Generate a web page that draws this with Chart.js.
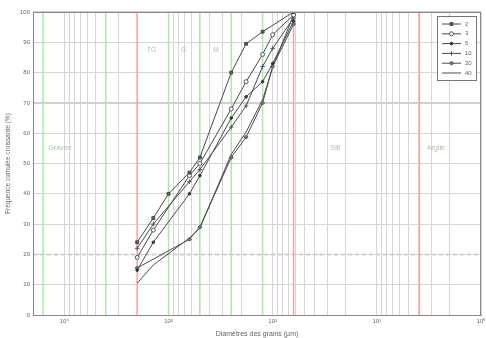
<!DOCTYPE html>
<html>
<head>
<meta charset="utf-8">
<script src="https://cdn.jsdelivr.net/npm/chart.js@4/dist/chart.umd.min.js"></script>
<style>
html, body { margin: 0; padding: 0; background: #fff; }
</style>
</head>
<body>
<canvas id="myChart" width="486" height="338"></canvas>
<script>
// Courbes granulométriques (diamètres en µm, passant cumulé en %)
const seriesNames = ['2', '3', '5', '10', '20', '40'];

const tailles2  = [2000, 1400, 1000, 630, 500, 250, 180, 125, 63];
const passant2  = [24, 32, 40, 47, 52, 80, 89.5, 93.5, 100];
const tailles3  = [2000, 1400, 630, 500, 250, 180, 125, 100, 63];
const passant3  = [19, 28, 46, 50, 68, 77, 86, 92.5, 99];
const tailles5  = [2000, 1400, 630, 500, 250, 180, 125, 100, 63];
const passant5  = [14.8, 24, 40, 46, 65, 72, 77, 83, 97];
const tailles10 = [2000, 1400, 630, 500, 250, 180, 125, 100, 63];
const passant10 = [22, 30, 44, 48, 62, 69, 82, 88, 98];
const tailles20 = [2000, 630, 500, 250, 180, 125, 100, 63];
const passant20 = [15.5, 25, 29, 52, 58.7, 70, 82, 96];
const tailles40 = [2000, 1400, 630, 500, 250, 180, 125, 100, 63];
const passant40 = [10.5, 16.5, 25.4, 28.7, 53, 60.4, 71, 81.8, 99];

const tailles  = [tailles2, tailles3, tailles5, tailles10, tailles20, tailles40];
const passants = [passant2, passant3, passant5, passant10, passant20, passant40];

// Axe des x
const majorTicks = [1, 10, 100, 1000, 10000];
const tickLabels = ['10\u2070', '10\u00b9', '10\u00b2', '10\u00b3', '10\u2074'];

// Limites des classes granulométriques (µm)
const limitesRouges = [2000, 63, 3.9];
const limitesVertes = [16000, 4000, 1000, 500, 250, 125];
const classes = ['Gravier', 'Silt', 'Argile'];
const classesX = [11000, 25, 2.7];
const sousClasses = ['TG', 'G', 'M'];
const sousClassesX = [1450, 720, 350];

const police = '"Liberation Sans", Arial, sans-serif';
const ctx = document.getElementById('myChart').getContext('2d');

// lignes de grille : toutes les valeurs 1..9 x 10^n
const gridValues = [];
majorTicks.forEach(m => {
    for (let k = 1; k <= 9; k++) {
        const v = m * k;
        if (v <= 20000) gridValues.push(v);
    }
});
gridValues.push(20000);

const styles = [
    { pointStyle: 'rect', pointRadius: 2, pointBackgroundColor: '#666', pointBorderColor: '#444' },
    { pointStyle: 'circle', pointRadius: 2, pointBackgroundColor: '#fff', pointBorderColor: '#555' },
    { pointStyle: 'circle', pointRadius: 1.3, pointBackgroundColor: '#333', pointBorderColor: '#333' },
    { pointStyle: 'cross', pointRadius: 2.3, pointBackgroundColor: '#555', pointBorderColor: '#555' },
    { pointStyle: 'rectRot', pointRadius: 2, pointBackgroundColor: '#777', pointBorderColor: '#555' },
    { pointStyle: false, pointRadius: 0, pointBackgroundColor: '#555', pointBorderColor: '#555' }
];

const datasets = seriesNames.map((nom, i) => Object.assign({
    label: nom,
    data: tailles[i].map((t, k) => ({ x: t, y: passants[i][k] })),
    showLine: true,
    borderColor: '#4a4a4a',
    borderWidth: 1,
    pointBorderWidth: 1
}, styles[i]));

// Plugin : limites de classes, étiquettes, cadre et légende
const granuloPlugin = {
    id: 'granulo',
    beforeDatasetsDraw(chart) {
        const c = chart.ctx, x = chart.scales.x, y = chart.scales.y, a = chart.chartArea;
        c.save();
        // lignes horizontales marquées
        c.strokeStyle = '#d0d0d0';
        c.lineWidth = 2;
        [70, 100].forEach(v => {
            c.beginPath(); c.moveTo(a.left, y.getPixelForValue(v)); c.lineTo(a.right, y.getPixelForValue(v)); c.stroke();
        });
        c.setLineDash([4, 3]);
        c.beginPath(); c.moveTo(a.left, y.getPixelForValue(20)); c.lineTo(a.right, y.getPixelForValue(20)); c.stroke();
        c.setLineDash([]);
        c.lineWidth = 1.5;
        c.strokeStyle = '#a8eaa8';
        limitesVertes.forEach(v => {
            const px = x.getPixelForValue(v);
            c.beginPath(); c.moveTo(px, a.top); c.lineTo(px, a.bottom); c.stroke();
        });
        c.strokeStyle = '#f6a4a4';
        limitesRouges.forEach(v => {
            const px = x.getPixelForValue(v);
            c.beginPath(); c.moveTo(px, a.top); c.lineTo(px, a.bottom); c.stroke();
        });
        c.fillStyle = '#a9c2a9';
        c.font = '7px ' + police;
        c.textAlign = 'center';
        c.textBaseline = 'middle';
        classes.forEach((t, i) => c.fillText(t, x.getPixelForValue(classesX[i]), y.getPixelForValue(55)));
        c.fillStyle = '#b8b8b8';
        sousClasses.forEach((t, i) => c.fillText(t, x.getPixelForValue(sousClassesX[i]), y.getPixelForValue(87.5)));
        c.restore();
    },
    afterDatasetsDraw(chart) {
        const c = chart.ctx, a = chart.chartArea;
        c.save();
        c.strokeStyle = '#888';
        c.lineWidth = 1;
        c.strokeRect(a.left + 0.5, a.top + 0.5, a.right - a.left - 1, a.bottom - a.top);
        // légende
        const lx = 437, ly = 16, lw = 39, lh = 64;
        c.fillStyle = '#fff';
        c.fillRect(lx, ly, lw, lh);
        c.strokeStyle = '#777';
        c.strokeRect(lx + 0.5, ly + 0.5, lw, lh);
        c.font = '6px ' + police;
        c.textBaseline = 'middle';
        c.textAlign = 'left';
        chart.data.datasets.forEach((ds, i) => {
            const yy = ly + 8 + i * 9.8;
            c.strokeStyle = ds.borderColor;
            c.lineWidth = 1;
            c.beginPath(); c.moveTo(lx + 5, yy); c.lineTo(lx + 24, yy); c.stroke();
            if (ds.pointStyle) {
                c.fillStyle = ds.pointBackgroundColor;
                c.strokeStyle = ds.pointBorderColor;
                Chart.helpers.drawPoint(c, { pointStyle: ds.pointStyle, radius: ds.pointRadius, rotation: 0, borderWidth: 1 }, lx + 14.5, yy);
            }
            c.fillStyle = '#666';
            c.fillText(ds.label, lx + 28, yy);
        });
        c.restore();
    }
};

const myChart = new Chart(ctx, {
    type: 'scatter',
    data: { datasets: datasets },
    options: {
        responsive: false,
        animation: false,
        layout: { padding: { top: 12, right: 3, left: 4, bottom: 0 } },
        plugins: { legend: { display: false }, tooltip: { enabled: false } },
        scales: {
            x: {
                type: 'logarithmic',
                reverse: true,
                min: 1,
                max: 20000,
                afterBuildTicks: s => { s.ticks = gridValues.map(v => ({ value: v })); },
                afterFit: s => { s.height = 23; },
                ticks: {
                    autoSkip: false,
                    maxRotation: 0,
                    padding: 3,
                    color: '#666',
                    font: { size: 6, family: police },
                    callback: v => {
                        const i = majorTicks.indexOf(v);
                        return i >= 0 ? tickLabels[i] : '';
                    }
                },
                grid: { color: '#d6d6d6', drawTicks: false },
                border: { color: '#888' },
                title: { display: true, text: 'Diamètres des grains (µm)', color: '#666', font: { size: 7, family: police }, padding: { top: 1, bottom: 0 } }
            },
            y: {
                min: 0,
                max: 100,
                afterFit: s => { s.width = 29; },
                ticks: { stepSize: 10, padding: 3, color: '#666', font: { size: 6, family: police } },
                grid: { color: '#d6d6d6', drawTicks: false },
                border: { color: '#888' },
                title: { display: true, text: 'Fréquence cumulée croissante (%)', color: '#666', font: { size: 6.5, family: police }, padding: { top: 0, bottom: 2 } }
            }
        }
    },
    plugins: [granuloPlugin]
});
</script>
</body>
</html>
